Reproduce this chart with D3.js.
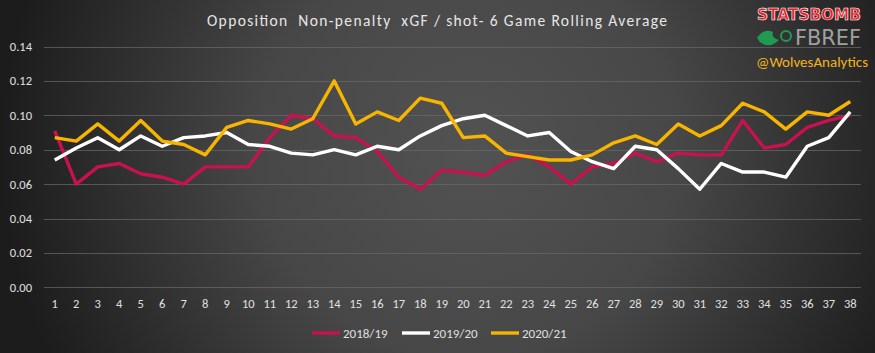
<!DOCTYPE html>
<html><head><meta charset="utf-8">
<script src="https://cdn.jsdelivr.net/npm/d3@7"></script>
<style>html,body{margin:0;padding:0;background:#2a2a2a;}svg{display:block;}</style>
</head><body>
<script>
const games = d3.range(1, 39);
const s1819 = [0.091,0.060,0.070,0.072,0.066,0.064,0.060,0.070,0.070,0.070,0.087,0.100,0.098,0.088,0.087,0.079,0.064,0.057,0.068,0.067,0.065,0.073,0.077,0.070,0.060,0.070,0.072,0.078,0.073,0.078,0.077,0.077,0.097,0.081,0.083,0.093,0.097,0.100];
const s1920 = [0.074,0.081,0.087,0.080,0.088,0.082,0.087,0.088,0.090,0.083,0.082,0.078,0.077,0.080,0.077,0.082,0.080,0.088,0.094,0.098,0.100,0.094,0.088,0.090,0.079,0.073,0.069,0.082,0.080,0.069,0.057,0.072,0.067,0.067,0.064,0.082,0.087,0.102];
const s2021 = [0.087,0.085,0.095,0.085,0.097,0.085,0.083,0.077,0.093,0.097,0.095,0.092,0.098,0.120,0.095,0.102,0.097,0.110,0.107,0.087,0.088,0.078,0.076,0.074,0.074,0.077,0.084,0.088,0.083,0.095,0.088,0.094,0.107,0.102,0.092,0.102,0.100,0.108];
const yTicks = [0,0.02,0.04,0.06,0.08,0.10,0.12,0.14];
const seriesNames = ["2018/19","2019/20","2020/21"];
const seriesColors = ["#c8114f","#ffffff","#f7b500"];
const titleText = "Opposition\u00a0 Non-penalty\u00a0 xGF / shot- 6 Game Rolling Average";

const W = 875, H = 353;
const svg = d3.select("body").append("svg").attr("width", W).attr("height", H);
const defs = svg.append("defs");
const rg = defs.append("radialGradient").attr("id","bg").attr("gradientUnits","userSpaceOnUse")
  .attr("cx",470).attr("cy",150).attr("r",470);
rg.append("stop").attr("offset","0%").attr("stop-color","#525252");
rg.append("stop").attr("offset","45%").attr("stop-color","#474747");
rg.append("stop").attr("offset","100%").attr("stop-color","#1c1c1c");
svg.append("rect").attr("width",W).attr("height",H).attr("fill","url(#bg)");

const x = d3.scaleBand().domain(games).range([44, 861]);
const y = d3.scaleLinear().domain([0, 0.14]).range([287.3, 46.5]);

// gridlines
svg.append("g").selectAll("line").data(yTicks).join("line")
  .attr("x1",44).attr("x2",861)
  .attr("y1",d=>Math.round(y(d))+0.5).attr("y2",d=>Math.round(y(d))+0.5)
  .attr("stroke","#6a6a6a").attr("stroke-width",1).attr("opacity",0.7);

const font = "Calibri, Carlito, 'Open Sans', sans-serif";
// y axis
const yAxis = d3.axisLeft(y).tickValues(yTicks).tickFormat(d3.format(".2f")).tickSize(0).tickPadding(0);
const gy = svg.append("g").attr("transform","translate(32,0)").call(yAxis);
gy.select(".domain").remove();
gy.selectAll("text").attr("fill","#e0e0e0").attr("font-size","12.5px").attr("font-family",font);

// x axis
const xAxis = d3.axisBottom(x).tickSize(0).tickPadding(0);
const gx = svg.append("g").attr("transform","translate(0,299)").call(xAxis);
gx.select(".domain").remove();
gx.selectAll("text").attr("fill","#e0e0e0").attr("font-size","12.5px").attr("font-family",font);

// lines
const line = d3.line().x((d,i)=>x(games[i]) + x.bandwidth()/2).y(d=>y(d));
[s1819, s1920, s2021].forEach((s, k) => {
  svg.append("path").datum(s).attr("d", line).attr("fill","none")
    .attr("stroke", seriesColors[k]).attr("stroke-width",3.4).attr("stroke-linejoin","round");
});

// title
svg.append("text").attr("x",207).attr("y",25.5)
  .attr("fill","#e6e6e6").attr("font-size","15.5px").attr("font-family",font)
  .attr("textLength",460).attr("lengthAdjust","spacing").text(titleText);

// legend
const legX = [312, 402, 491];
seriesNames.forEach((n,k)=>{
  const g = svg.append("g").attr("transform",`translate(${legX[k]},333)`);
  g.append("line").attr("x1",0).attr("x2",28).attr("y1",0).attr("y2",0)
    .attr("stroke",seriesColors[k]).attr("stroke-width",3.4);
  g.append("text").attr("x",31).attr("y",4.5).attr("fill","#e0e0e0")
    .attr("font-size","13px").attr("font-family",font).text(n);
});

// logos / credits
svg.append("text").attr("x",809).attr("y",20).attr("text-anchor","middle")
  .attr("fill","#e8202a").attr("stroke","#ffffff").attr("stroke-width",0.6)
  .attr("font-weight","900").attr("font-size","15px").attr("font-family","'DejaVu Sans', sans-serif")
  .attr("textLength",104).attr("lengthAdjust","spacingAndGlyphs").text("STATSBOMB");
svg.append("text").attr("x",828).attr("y",45).attr("text-anchor","middle")
  .attr("fill","#a0a0a0").attr("font-size","22px").attr("font-family","'DejaVu Sans Condensed','DejaVu Sans', sans-serif")
  .attr("textLength",66).attr("lengthAdjust","spacingAndGlyphs").text("FBREF");
svg.append("path").attr("d","M757,38 q6,-10 16,-6 q-2,6 6,8 q-8,8 -16,4 q-4,-2 -6,-6z").attr("fill","#1f9a50");
svg.append("circle").attr("cx",786).attr("cy",36).attr("r",5).attr("fill","none").attr("stroke","#1f9a50").attr("stroke-width",2);
svg.append("text").attr("x",812).attr("y",67).attr("text-anchor","middle")
  .attr("fill","#f2b21b").attr("font-size","15px").attr("font-family",font).text("@WolvesAnalytics");
</script>
</body></html>
